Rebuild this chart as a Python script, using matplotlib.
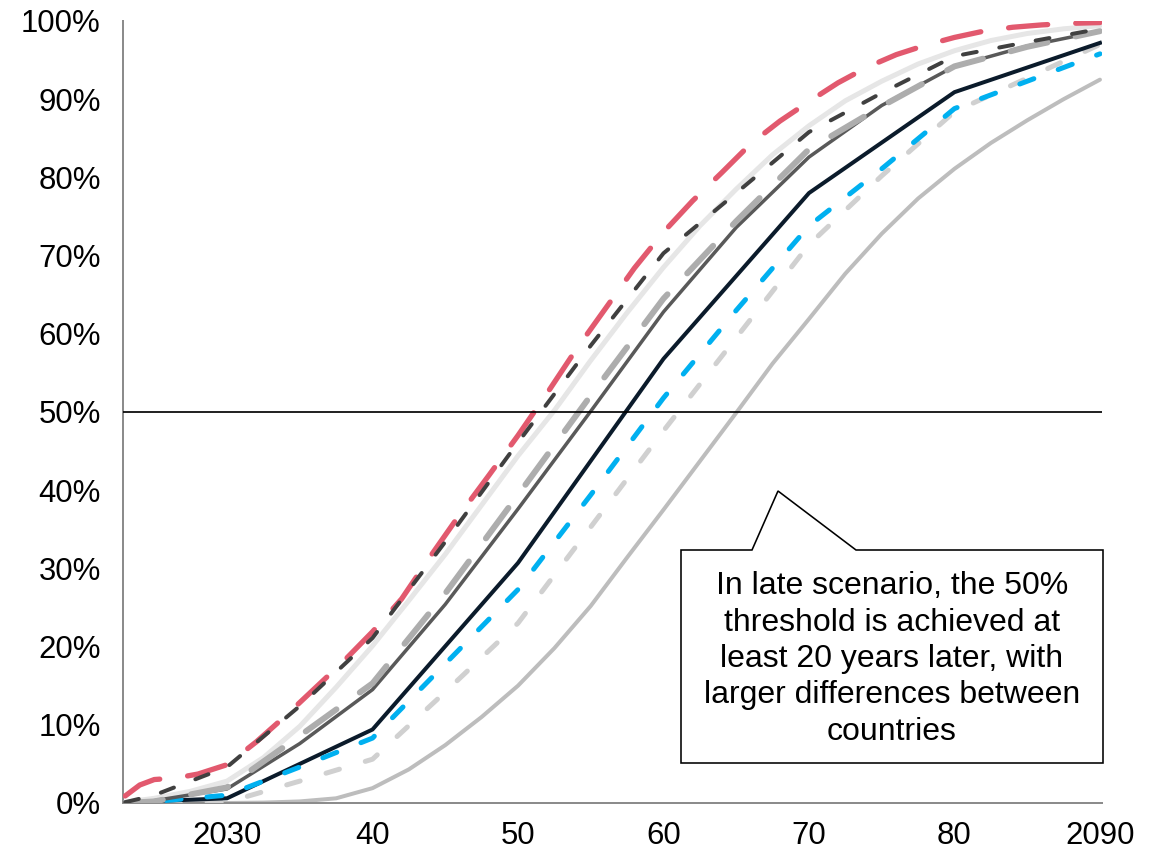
import matplotlib
matplotlib.use("Agg")
import matplotlib.pyplot as plt
from matplotlib.patches import Polygon

plt.rcParams['font.family'] = ['Liberation Sans', 'DejaVu Sans']

# ---------------- data (percent) ----------------
years5 = [2023, 2025, 2030, 2035, 2040, 2045, 2050, 2055, 2060, 2065, 2070, 2075, 2080, 2085, 2090]
years_fine = [2023, 2025, 2027.5, 2030, 2032.5, 2035, 2037.5, 2040, 2042.5, 2045, 2047.5, 2050,
              2052.5, 2055, 2057.5, 2060, 2062.5, 2065, 2067.5, 2070, 2072.5, 2075, 2077.5,
              2080, 2082.5, 2085, 2087.5, 2090]

red_years = [2023, 2024, 2025, 2026.5, 2028, 2030, 2032, 2034, 2036, 2038, 2040, 2042, 2044,
             2046, 2048, 2050, 2052, 2054, 2056, 2058, 2060, 2062, 2064, 2066, 2068, 2070,
             2072, 2074, 2076, 2078, 2080, 2082, 2084, 2086, 2088, 2090]
red_vals = [0.9, 2.3, 3.0, 3.2, 3.7, 4.9, 7.8, 11.1, 14.6, 18.1, 21.9, 26.1, 31.6,
            36.9, 41.9, 47.0, 52.4, 58.0, 63.2, 68.4, 73.0, 77.0, 80.6, 84.3, 87.2, 89.7,
            92.1, 94.1, 95.7, 96.9, 97.9, 98.7, 99.2, 99.5, 99.7, 99.8]

dkgray_dash_vals = [0.1, 1.0, 4.6, 12.4, 21.1, 33.4, 46.1, 58.5, 70.3, 78.0, 85.8, 90.8, 95.5, 97.3, 99.0]
medgray_dash_vals = [0.0, 0.2, 2.0, 8.6, 15.3, 26.8, 39.4, 52.1, 64.5, 74.4, 83.6, 89.1, 94.2, 96.7, 98.7]
dkgray_solid_vals = [0.0, 0.3, 1.8, 7.6, 14.5, 25.4, 37.6, 50.1, 62.8, 73.6, 82.6, 89.2, 94.2, 96.8, 98.7]
blue_vals = [0.0, 0.2, 1.0, 4.6, 8.3, 17.8, 27.3, 39.4, 51.8, 63.0, 73.8, 81.1, 88.8, 92.3, 95.8]
light_dash_vals = [0.0, 0.0, 0.1, 2.8, 5.6, 14.2, 23.0, 35.3, 47.6, 59.5, 71.4, 80.2, 88.4, 92.7, 97.0]

light_solid_vals = [0.1, 0.6, 1.5, 2.8, 5.8, 9.8, 14.8, 20.1, 25.9, 31.8, 38.1, 44.4,
                    50.2, 56.6, 62.7, 68.5, 73.8, 78.5, 82.9, 86.6, 89.8, 92.3, 94.5,
                    96.2, 97.5, 98.4, 99.0, 99.4]
late_vals = [0.0, 0.0, 0.0, 0.0, 0.05, 0.2, 0.6, 1.9, 4.3, 7.4, 11.0, 15.0,
             19.8, 25.2, 31.4, 37.5, 43.7, 49.9, 56.2, 61.9, 67.7, 72.8, 77.3,
             81.1, 84.4, 87.3, 90.0, 92.5]

black_years = [2023, 2030, 2040, 2050, 2060, 2070, 2080, 2090]
black_vals = [0.1, 0.6, 9.4, 30.7, 56.8, 78.0, 90.9, 97.2]

xtick_pos = [2030, 2040, 2050, 2060, 2070, 2080, 2090]
xtick_labels = ["2030", "40", "50", "60", "70", "80", "2090"]
ytick_pos = [0, 10, 20, 30, 40, 50, 60, 70, 80, 90, 100]
ytick_labels = [f"{v}%" for v in ytick_pos]

threshold = 50
note = ("In late scenario, the 50%\nthreshold is achieved at\nleast 20 years later, with\n"
        "larger differences between\ncountries")

# ---------------- figure ----------------
W, H = 1161, 851
fig = plt.figure(figsize=(W / 100, H / 100), dpi=100)
ax_l, ax_r, ax_t, ax_b = 123, 1102, 21, 803
ax = fig.add_axes([ax_l / W, (H - ax_b) / H, (ax_r - ax_l) / W, (ax_b - ax_t) / H])

ax.set_xlim(2022.85, 2090.14)
ax.set_ylim(0, 100)

def px(w):
    return w * 0.72

# bottom to top
ax.plot(years_fine, late_vals, color="#BDBDBD", lw=px(4), solid_capstyle="round",
        solid_joinstyle="round", zorder=2)
ax.plot(years5, light_dash_vals, color="#D0D0D0", lw=px(5), dashes=(2.8, 5.4),
        dash_capstyle="round", zorder=3)
ax.plot(black_years, black_vals, color="#0B1B2B", lw=px(4), zorder=4)
ax.plot(years5, blue_vals, color="#00B0F0", lw=px(5), dashes=(3.0, 5.2),
        dash_capstyle="round", zorder=5)
ax.plot(years_fine, light_solid_vals, color="#E6E6E6", lw=px(5), solid_capstyle="round",
        solid_joinstyle="round", zorder=6)
ax.plot(years5, dkgray_solid_vals, color="#595959", lw=px(3.5), solid_joinstyle="round", zorder=7)
ax.plot(years5, medgray_dash_vals, color="#ADADAD", lw=px(6), dashes=(6.3, 4.8),
        dash_capstyle="round", zorder=8)
ax.plot(red_years, red_vals, color="#E2596E", lw=px(5.3), dashes=(7.4, 5.3),
        dash_capstyle="round", zorder=9)
ax.plot(years5, dkgray_dash_vals, color="#404040", lw=px(4), dashes=(3.5, 5.75),
        dash_capstyle="round", zorder=10)

ax.axhline(threshold, color="black", lw=px(1.7), zorder=11)

# spines / ticks
for s in ["top", "right"]:
    ax.spines[s].set_visible(False)
for s in ["left", "bottom"]:
    ax.spines[s].set_color("#8C8C8C")
    ax.spines[s].set_linewidth(px(2))
ax.set_xticks(xtick_pos)
ax.set_xticklabels(xtick_labels)
ax.set_yticks(ytick_pos)
ax.set_yticklabels(ytick_labels)
ax.tick_params(axis="both", length=0, labelsize=22.4, colors="black")
ax.tick_params(axis="x", pad=13)
ax.tick_params(axis="y", pad=16)

# callout
def fx(p):
    return (p - ax_l) / (ax_r - ax_l)

def fy(p):
    return (ax_b - p) / (ax_b - ax_t)

pts = [(681, 763), (681, 550), (752, 550), (778, 491), (856, 550), (1103, 550), (1103, 763)]
poly = Polygon([(fx(x), fy(y)) for x, y in pts], closed=True, transform=ax.transAxes,
               facecolor="white", edgecolor="black", lw=px(1.6), zorder=20, clip_on=False)
ax.add_patch(poly)
ax.text(fx(892), fy(659), note, transform=ax.transAxes, ha="center", va="center",
        fontsize=23, linespacing=1.28, zorder=21)

fig.savefig("out.png", dpi=100)
